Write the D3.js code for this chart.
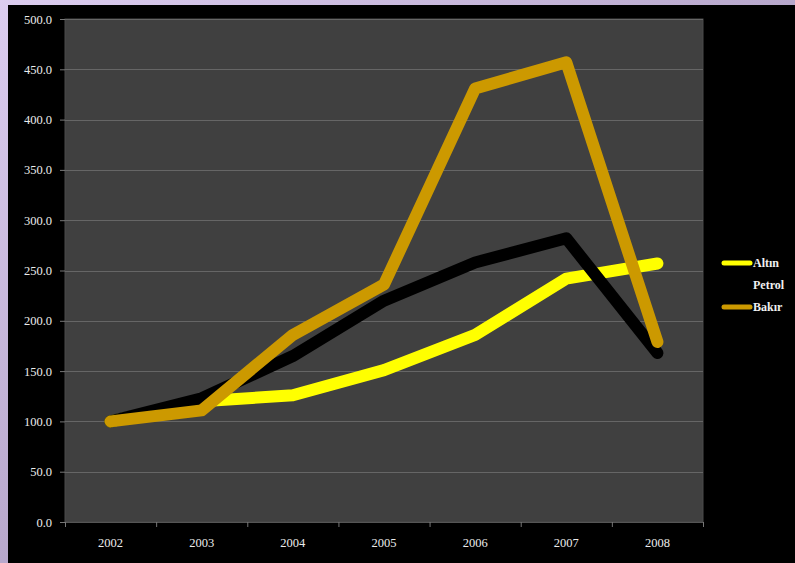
<!DOCTYPE html>
<html><head><meta charset="utf-8">
<script src="https://cdn.jsdelivr.net/npm/d3@7"></script>
<style>html,body{margin:0;padding:0;background:#000;}svg{display:block;}</style>
</head><body>
<svg id="chart" width="795" height="563"></svg>
<script>
const years = ["2002","2003","2004","2005","2006","2007","2008"];
const altin  = [100, 120, 126, 151, 186, 242, 257];
const petrol = [100, 123, 165, 220, 258, 282, 168];
const bakir  = [100, 111, 186, 236, 431, 457, 179];
const seriesNames = ["Altın","Petrol","Bakır"];
const seriesColors = ["#ffff00","#000000","#cc9900"];
const yTicks = [0,50,100,150,200,250,300,350,400,450,500];

const svg = d3.select("#chart");
const W = 795, H = 563;
const defs = svg.append("defs");
const g1 = defs.append("linearGradient").attr("id","frame").attr("x1","0").attr("y1","0").attr("x2","1").attr("y2","1");
g1.append("stop").attr("offset","0").attr("stop-color","#dccdf0");
g1.append("stop").attr("offset","0.5").attr("stop-color","#b8a8cc");
g1.append("stop").attr("offset","1").attr("stop-color","#8c8098");
svg.append("rect").attr("width",W).attr("height",H).attr("fill","url(#frame)");
svg.append("rect").attr("x",8).attr("y",5).attr("width",W-8).attr("height",H-5).attr("fill","#000");

const L = 65, R = 703, T = 19, B = 522;
const x = d3.scaleBand().domain(years).range([L,R]);
const y = d3.scaleLinear().domain([0,500]).range([B,T]);

svg.append("rect").attr("x",L).attr("y",T).attr("width",R-L).attr("height",B-T)
  .attr("fill","#404040").attr("stroke","#4a4a4a").attr("stroke-width",1);

// gridlines
svg.append("g").selectAll("line").data(yTicks.filter(d=>d>0)).join("line")
  .attr("x1",L).attr("x2",R).attr("y1",d=>Math.round(y(d))+0.5).attr("y2",d=>Math.round(y(d))+0.5)
  .attr("stroke","#666").attr("stroke-width",1);

// y axis
const yAxis = svg.append("g").attr("transform",`translate(${L},0)`)
  .call(d3.axisLeft(y).tickValues(yTicks).tickFormat(d3.format(".1f")).tickSize(5).tickPadding(8));
yAxis.select(".domain").remove();
yAxis.selectAll("line").attr("stroke","#777");
yAxis.selectAll("text").attr("fill","#ececec").style("font-family","'Liberation Serif','Times New Roman',serif").style("font-size","12.5px");

// x axis
const xAxis = svg.append("g").attr("transform",`translate(0,${B})`)
  .call(d3.axisBottom(x).tickSize(0).tickPadding(16));
xAxis.select(".domain").attr("stroke","#555");
xAxis.selectAll("text").attr("fill","#ececec").style("font-family","'Liberation Serif','Times New Roman',serif").style("font-size","12.5px");
const bounds = years.map(d=>x(d)).concat([R]);
svg.append("g").selectAll("line").data(bounds).join("line")
  .attr("x1",d=>d+0.5).attr("x2",d=>d+0.5).attr("y1",B).attr("y2",B+5).attr("stroke","#777");

// lines
const data = [altin, petrol, bakir];
const line = d3.line().x((d,i)=>x(years[i])+x.bandwidth()/2).y(d=>y(d));
svg.append("g").selectAll("path").data(data).join("path")
  .attr("d",line).attr("fill","none")
  .attr("stroke",(d,i)=>seriesColors[i]).attr("stroke-width",12)
  .attr("stroke-linejoin","round").attr("stroke-linecap","round");

// legend
const lg = svg.append("g");
const ly = [263, 285, 307];
seriesNames.forEach((n,i)=>{
  lg.append("line").attr("x1",724).attr("x2",750).attr("y1",ly[i]).attr("y2",ly[i])
    .attr("stroke",seriesColors[i]).attr("stroke-width",5).attr("stroke-linecap","round");
  lg.append("text").attr("x",753).attr("y",ly[i]+4).text(n)
    .attr("fill","#f0f0f0").style("font-family","'Liberation Serif','Times New Roman',serif")
    .style("font-size","12px").style("font-weight","bold");
});
</script>
</body></html>
